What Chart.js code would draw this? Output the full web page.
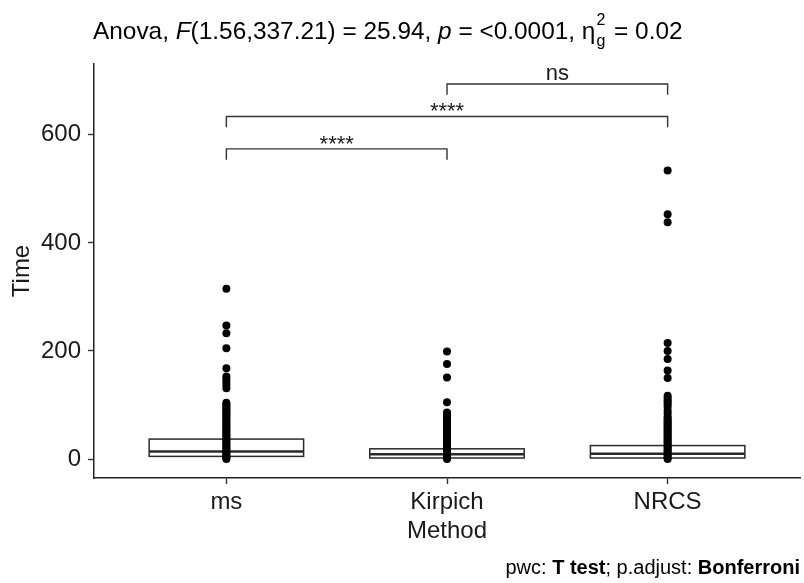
<!DOCTYPE html>
<html>
<head>
<meta charset="utf-8">
<script src="https://cdn.jsdelivr.net/npm/chart.js@4.4.1/dist/chart.umd.min.js"></script>
<style>
  html, body { margin: 0; padding: 0; background: #fff; }
  #wrap { width: 804px; height: 583px; }
</style>
</head>
<body>
<div id="wrap"><canvas id="timeChart" width="804" height="583"></canvas></div>
<script>
// categories and tick labels
const methods = ['ms', 'Kirpich', 'NRCS'];
const yTicks = [0, 200, 400, 600];

// box statistics per method
const boxLow = [0, 0, 0];
const boxQ1 = [5, 2, 2];
const boxMedian = [14, 9, 10];
const boxQ3 = [37, 19, 25];
const boxHigh = [85, 44, 60];

const msTimes = [315, 247, 233, 205, 168, 153, 148, 143, 137, 131, 104, 101, 98, 95, 92, 89, 86, 83, 80, 77, 74, 71, 68, 65, 62, 59, 56, 53, 50, 47, 44, 41, 38, 35, 32, 29, 26, 23, 20, 17, 14, 11, 8, 5, 2, 0];
const kirpichTimes = [199, 176, 151, 105, 86, 83, 80, 77, 74, 71, 68, 65, 62, 59, 56, 53, 50, 47, 44, 41, 38, 35, 32, 29, 26, 23, 20, 17, 14, 11, 8, 5, 2, 0];
const nrcsTimes = [534, 453, 438, 215, 200, 185, 164, 150, 117, 113, 109, 105, 101, 97, 90, 85, 79, 75, 72, 69, 66, 63, 60, 57, 54, 51, 48, 45, 42, 39, 36, 33, 30, 27, 24, 21, 18, 15, 12, 9, 6, 3, 0];

// pairwise comparison brackets
const bracketFrom = [1, 1, 2];
const bracketTo = [2, 3, 3];
const bracketY = [574, 634, 694];
const bracketLabels = ['****', '****', 'ns'];
const bracketTip = 20;

const FONT = "'Liberation Sans', Arial, sans-serif";
const INK = '#1a1a1a';

const allTimes = [msTimes, kirpichTimes, nrcsTimes];

const pointSets = allTimes.map((arr, i) => ({
    type: 'scatter',
    data: arr.map(v => ({ x: i + 1, y: v })),
    pointRadius: 4,
    pointHoverRadius: 4,
    pointBorderWidth: 0,
    pointBackgroundColor: '#000',
    order: 1
}));

const bracketSets = bracketFrom.map((from, i) => ({
    type: 'scatter',
    showLine: true,
    data: [
        { x: from, y: bracketY[i] - bracketTip },
        { x: from, y: bracketY[i] },
        { x: bracketTo[i], y: bracketY[i] },
        { x: bracketTo[i], y: bracketY[i] - bracketTip }
    ],
    borderColor: '#333',
    borderWidth: 1.4,
    pointRadius: 0,
    tension: 0,
    order: 2
}));

// Box plot bodies, drawn under the points
const boxPlugin = {
    id: 'boxes',
    beforeDatasetsDraw(chart) {
        const { ctx, scales: { x, y } } = chart;
        ctx.save();
        ctx.strokeStyle = '#2a2a2a';
        ctx.lineWidth = 1.5;
        methods.forEach((m, i) => {
            const cx = x.getPixelForValue(i + 1);
            const l = x.getPixelForValue(i + 1 - 0.35);
            const r = x.getPixelForValue(i + 1 + 0.35);
            const top = y.getPixelForValue(boxQ3[i]);
            const bot = y.getPixelForValue(boxQ1[i]);
            // whiskers
            ctx.beginPath();
            ctx.moveTo(cx, top); ctx.lineTo(cx, y.getPixelForValue(boxHigh[i]));
            ctx.moveTo(cx, bot); ctx.lineTo(cx, y.getPixelForValue(boxLow[i]));
            ctx.stroke();
            ctx.fillStyle = '#fff';
            ctx.fillRect(l, top, r - l, bot - top);
            ctx.strokeRect(l, top, r - l, bot - top);
            // median
            ctx.lineWidth = 2.6;
            const my = y.getPixelForValue(boxMedian[i]);
            ctx.beginPath();
            ctx.moveTo(l, my); ctx.lineTo(r, my);
            ctx.stroke();
            ctx.lineWidth = 1.5;
        });
        ctx.restore();
    }
};

// Bracket labels, title and caption
const textPlugin = {
    id: 'texts',
    afterDraw(chart) {
        const { ctx, scales: { x, y } } = chart;
        ctx.save();
        ctx.fillStyle = INK;
        ctx.textAlign = 'center';
        ctx.textBaseline = 'middle';
        bracketLabels.forEach((lab, i) => {
            const cx = x.getPixelForValue((bracketFrom[i] + bracketTo[i]) / 2);
            const by = y.getPixelForValue(bracketY[i]);
            ctx.font = '22px ' + FONT;
            if (lab === 'ns') {
                ctx.fillText(lab, cx, by - 10);
            } else {
                ctx.fillText(lab, cx, by - 4);
            }
        });

        // title
        ctx.textAlign = 'left';
        ctx.textBaseline = 'alphabetic';
        ctx.fillStyle = '#000';
        const parts = [
            ['Anova, ', ''], ['F', 'italic '], ['(1.56,337.21) = 25.94, ', ''],
            ['p', 'italic '], [' = <0.0001, \u03b7', '']
        ];
        let tx = 93;
        const base = 39;
        parts.forEach(([t, st]) => {
            ctx.font = st + '24.4px ' + FONT;
            ctx.fillText(t, tx, base);
            tx += ctx.measureText(t).width;
        });
        ctx.font = '16px ' + FONT;
        ctx.fillText('g', tx + 1, base + 7);
        ctx.fillText('2', tx + 1, base - 14);
        tx += ctx.measureText('g').width + 3;
        ctx.font = '24.4px ' + FONT;
        ctx.fillText(' = 0.02', tx, base);

        // caption
        const cap = [['pwc: ', ''], ['T test', 'bold '], ['; p.adjust: ', ''], ['Bonferroni', 'bold ']];
        let w = 0;
        cap.forEach(([t, st]) => { ctx.font = st + '20px ' + FONT; w += ctx.measureText(t).width; });
        let cx = 800 - w;
        cap.forEach(([t, st]) => {
            ctx.font = st + '20px ' + FONT;
            ctx.fillText(t, cx, 574);
            cx += ctx.measureText(t).width;
        });
        ctx.restore();
    }
};

new Chart(document.getElementById('timeChart').getContext('2d'), {
    type: 'scatter',
    data: { datasets: [...bracketSets, ...pointSets] },
    options: {
        responsive: false,
        animation: false,
        layout: { padding: { top: 64, right: 2, left: 0, bottom: 0 } },
        plugins: { legend: { display: false }, tooltip: { enabled: false } },
        scales: {
            x: {
                type: 'linear', min: 0.4, max: 3.6,
                afterBuildTicks: s => { s.ticks = methods.map((m, i) => ({ value: i + 1 })); },
                afterFit: s => { s.height = 105; },
                grid: { drawOnChartArea: false, drawTicks: true, tickLength: 6, color: '#333', tickWidth: 1.4 },
                border: { display: true, color: '#222', width: 1.5 },
                ticks: {
                    autoSkip: false, maxRotation: 0, padding: 4, color: INK,
                    font: { size: 24, family: FONT },
                    callback: (v, i) => methods[i]
                },
                title: { display: true, text: 'Method', color: INK, font: { size: 24, family: FONT }, padding: { top: 0, bottom: 37 } }
            },
            y: {
                min: -35, max: 731,
                afterBuildTicks: s => { s.ticks = yTicks.map(v => ({ value: v })); },
                afterFit: s => { s.width = 94; },
                grid: { drawOnChartArea: false, drawTicks: true, tickLength: 6, color: '#333', tickWidth: 1.4 },
                border: { display: true, color: '#222', width: 1.5 },
                ticks: { padding: 7, color: INK, font: { size: 24, family: FONT } },
                title: { display: true, text: 'Time', color: INK, font: { size: 24, family: FONT }, padding: { top: 8, bottom: 0 } }
            }
        }
    },
    plugins: [boxPlugin, textPlugin]
});
</script>
</body>
</html>
